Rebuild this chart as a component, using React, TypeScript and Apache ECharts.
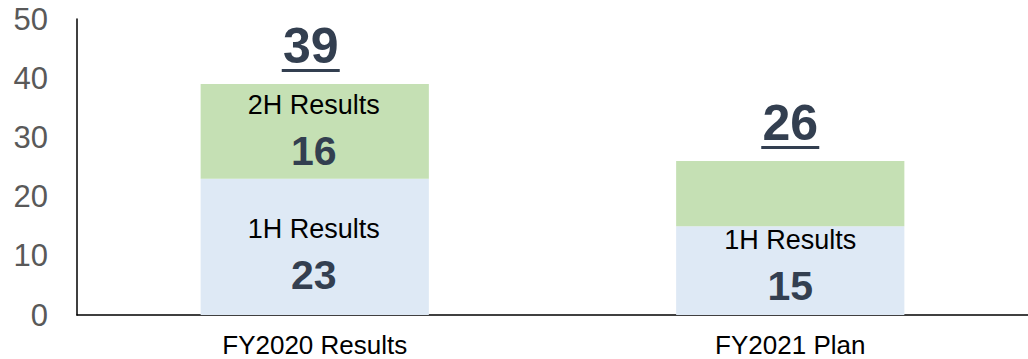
import React, { useEffect, useRef } from "react";
import * as echarts from "echarts";

const categories = ["FY2020 Results", "FY2021 Plan"];
const firstHalf = [23, 15];
const secondHalf = [16, 11];
const totals = [39, 26];
const firstHalfNames = ["1H Results", "1H Results"];
const secondHalfNames = ["2H Results", ""];
const yTicks = [0, 10, 20, 30, 40, 50];

const FONT = "'Liberation Sans', Arial, sans-serif";
const NUM_COLOR = "#333F50";

export default function App() {
  const ref = useRef<HTMLDivElement>(null);
  useEffect(() => {
    if (!ref.current) return;
    const chart = echarts.init(ref.current, undefined, { renderer: "svg" });
    const rich = {
      a: { fontSize: 27, fontFamily: FONT, color: "#000000", lineHeight: 40 },
      b: { fontSize: 41, fontFamily: FONT, fontWeight: "bold", color: NUM_COLOR, lineHeight: 52 },
    };
    const firstOffsets = [[-1, 8], [0, -5]];
    const totalOffsets = [[-4, 0], [0, 0]];
    chart.setOption({
      animation: false,
      grid: { left: 77, right: 0, top: 19, bottom: 44, containLabel: false },
      xAxis: {
        type: "category",
        data: categories,
        axisLine: { show: true, lineStyle: { color: "#000000", width: 1.5 } },
        axisTick: { show: false },
        axisLabel: { fontSize: 26, fontFamily: FONT, color: "#000000", margin: 17 },
      },
      yAxis: {
        type: "value",
        min: yTicks[0],
        max: yTicks[yTicks.length - 1],
        interval: 10,
        splitLine: { show: false },
        axisLine: { show: true, lineStyle: { color: "#000000", width: 1.5 } },
        axisTick: { show: false },
        axisLabel: { fontSize: 31, fontFamily: FONT, color: "#595959", margin: 29 },
      },
      series: [
        {
          type: "bar",
          name: "1H",
          stack: "total",
          barWidth: "48%",
          itemStyle: { color: "#DEE9F5" },
          data: firstHalf.map((v, i) => ({
            value: v,
            label: { offset: firstOffsets[i] },
          })),
          label: {
            show: true,
            position: "inside",
            formatter: (p: any) => `{a|${firstHalfNames[p.dataIndex]}}\n{b|${p.value}}`,
            rich,
          },
        },
        {
          type: "bar",
          name: "2H",
          stack: "total",
          barWidth: "48%",
          itemStyle: { color: "#C5E0B4" },
          data: secondHalf.map((v, i) => ({
            value: v,
            label: { show: secondHalfNames[i] !== "" },
          })),
          label: {
            show: true,
            position: "inside",
            offset: [-1, 0],
            formatter: (p: any) => `{a|${secondHalfNames[p.dataIndex]}}\n{b|${p.value}}`,
            rich,
          },
        },
        {
          type: "bar",
          name: "Total",
          barWidth: "48%",
          barGap: "-100%",
          itemStyle: { color: "transparent" },
          silent: true,
          z: 5,
          data: totals.map((v, i) => ({ value: v, label: { offset: totalOffsets[i] } })),
          label: {
            show: true,
            position: "top",
            distance: 12,
            formatter: (p: any) => `{n|${p.value}}\n{u| }`,
            rich: {
              n: { fontSize: 50, fontFamily: FONT, fontWeight: "bold", color: NUM_COLOR, lineHeight: 46, align: "center" },
              u: { width: 58, height: 3, lineHeight: 3, backgroundColor: NUM_COLOR, fontSize: 1, align: "center" },
            },
          },
        },
      ],
    });
    return () => chart.dispose();
  }, []);
  return (
    <div
      ref={ref}
      style={{ position: "fixed", left: 0, top: 0, width: 1028, height: 359, background: "#ffffff" }}
    />
  );
}
